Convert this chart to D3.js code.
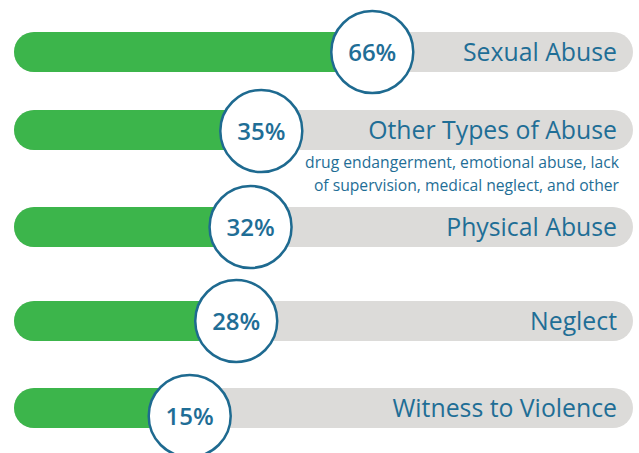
<!DOCTYPE html>
<html>
<head>
<meta charset="utf-8">
<script src="https://cdn.jsdelivr.net/npm/d3@7"></script>
<style>
  html, body { margin: 0; padding: 0; background: #fff; }
  svg { display: block; }
</style>
</head>
<body>
<svg id="chart" width="639" height="453"></svg>
<script>
// ---- data ----
const categories = ["Sexual Abuse", "Other Types of Abuse", "Physical Abuse", "Neglect", "Witness to Violence"];
const values = [66, 35, 32, 28, 15];
const valueLabels = ["66%", "35%", "32%", "28%", "15%"];
const notes = [null, ["drug endangerment, emotional abuse, lack", "of supervision, medical neglect, and other"], null, null, null];

// ---- layout ----
const W = 639, H = 453;
const barLeft = 14, barRight = 633, barH = 40, r = 41;
const rowY = [52, 130, 227, 321, 408];   // bar centres
const circleDy = [0, 1, 0, 0, 8];
const green = "#3cb54b", track = "#dcdbd9", blue = "#1e6a90", textBlue = "#1f6e96";
const labelFont = "'Open Sans', Lato, sans-serif";

const svg = d3.select("#chart");

// infographic placement scale (circle positions along the track)
const x = d3.scaleLinear().domain([0, 100]).range([136, 494]);

const rows = svg.selectAll("g.row")
  .data(categories.map((c, i) => ({ c, v: values[i], lab: valueLabels[i], note: notes[i], i })))
  .join("g").attr("class", "row");

rows.append("rect")
  .attr("x", barLeft).attr("y", d => rowY[d.i] - barH / 2)
  .attr("width", barRight - barLeft).attr("height", barH)
  .attr("rx", barH / 2).attr("fill", track);

rows.append("rect")
  .attr("x", barLeft).attr("y", d => rowY[d.i] - barH / 2)
  .attr("width", d => x(d.v) - barLeft).attr("height", barH)
  .attr("rx", barH / 2).attr("fill", green);

rows.append("text")
  .attr("x", 617).attr("y", d => rowY[d.i])
  .attr("dy", "0.37em")
  .attr("text-anchor", "end")
  .attr("font-family", labelFont)
  .attr("font-weight", 400)
  .attr("font-size", 24.8)
  .attr("fill", textBlue)
  .text(d => d.c);

rows.filter(d => d.note).each(function(d) {
  const t = d3.select(this).append("text")
    .attr("text-anchor", "end")
    .attr("font-family", labelFont)
    .attr("font-weight", 400)
    .attr("font-size", 15.7)
    .attr("fill", textBlue);
  d.note.forEach((line, k) => {
    t.append("tspan").attr("x", 619).attr("y", rowY[d.i] + 38 + k * 23).text(line);
  });
});

rows.append("circle")
  .attr("cx", d => x(d.v)).attr("cy", d => rowY[d.i] + circleDy[d.i])
  .attr("r", r)
  .attr("fill", "#fff").attr("stroke", blue).attr("stroke-width", 2.5);

rows.append("text")
  .attr("x", d => x(d.v)).attr("y", d => rowY[d.i] + circleDy[d.i])
  .attr("dy", "0.36em")
  .attr("text-anchor", "middle")
  .attr("font-family", labelFont)
  .attr("font-weight", 600)
  .attr("font-size", 24)
  .attr("fill", textBlue)
  .text(d => d.lab);
</script>
</body>
</html>
